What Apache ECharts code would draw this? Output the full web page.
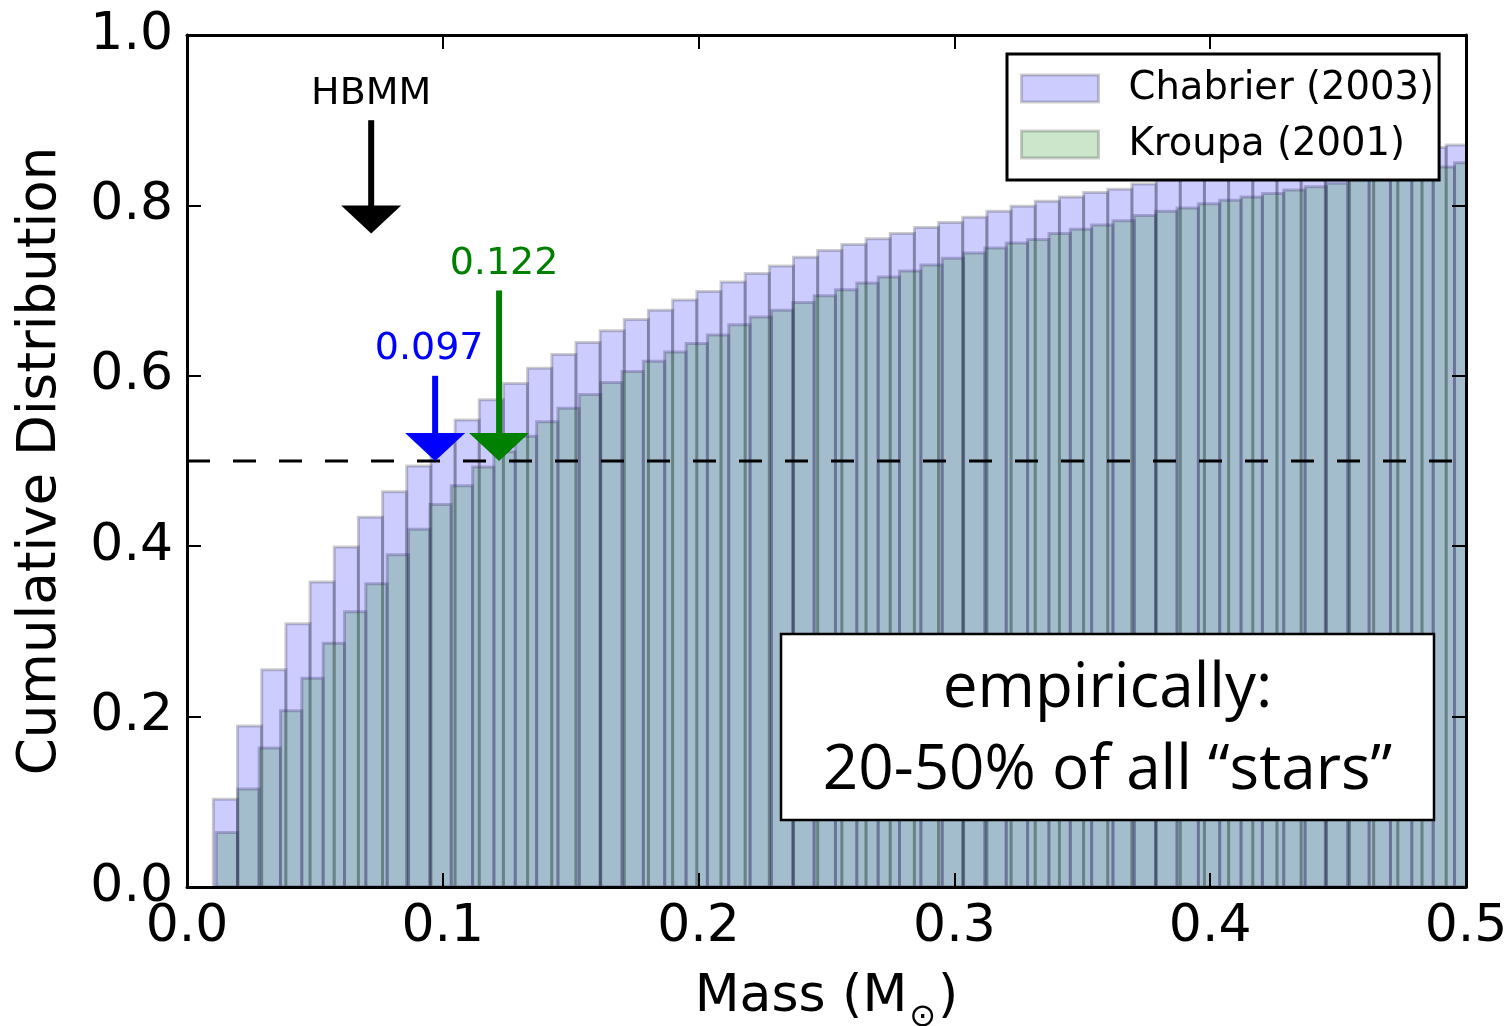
<!DOCTYPE html>
<html>
<head>
<meta charset="utf-8">
<title>Cumulative Distribution of stellar masses</title>
<script src="https://cdn.jsdelivr.net/npm/echarts@6/dist/echarts.min.js"></script>
<style>
  html, body { margin: 0; padding: 0; background: #ffffff; }
  #chart { width: 1512px; height: 1026px; }
</style>
</head>
<body>
<div id="chart"></div>
<script>
// ---- Histogram binning (equal-width bins) ----
const chabrierBinStart = 0.0103;
const chabrierBinWidth = 0.00945;
const kroupaBinStart = 0.0115;
const kroupaBinWidth = 0.008345;

// ---- Cumulative fraction per bin ----
const chabrierCumulative = [
  0.103, 0.189, 0.255, 0.309, 0.358, 0.399, 0.434, 0.464, 0.494, 0.521,
  0.548, 0.572, 0.591, 0.609, 0.625, 0.639, 0.653, 0.666, 0.677, 0.689,
  0.699, 0.710, 0.720, 0.729, 0.739, 0.747, 0.754, 0.761, 0.767, 0.774,
  0.780, 0.786, 0.793, 0.799, 0.805, 0.810, 0.815, 0.819, 0.825, 0.830,
  0.834, 0.838, 0.842, 0.846, 0.849, 0.853, 0.856, 0.859, 0.862, 0.865,
  0.868, 0.871
];
const kroupaCumulative = [
  0.064, 0.115, 0.163, 0.207, 0.245, 0.286, 0.323, 0.356, 0.390, 0.420,
  0.449, 0.471, 0.493, 0.511, 0.529, 0.546, 0.562, 0.578, 0.592, 0.605,
  0.617, 0.628, 0.638, 0.648, 0.660, 0.669, 0.677, 0.686, 0.694, 0.701,
  0.709, 0.716, 0.723, 0.730, 0.738, 0.744, 0.750, 0.756, 0.760, 0.767,
  0.772, 0.777, 0.782, 0.788, 0.793, 0.797, 0.802, 0.806, 0.810, 0.814,
  0.818, 0.822, 0.826, 0.830, 0.834, 0.838, 0.841, 0.845, 0.850
];

// ---- Axis ranges ----
const xRange = [0, 0.5];
const xStep = 0.1;
const yRange = [0, 1];
const yStep = 0.2;

// ---- Reference level and arrow annotations ----
const medianLevel = 0.5;
const arrowLabels = ['HBMM', '0.097', '0.122'];
const arrowX = [0.072, 0.097, 0.122];
const arrowTail = [0.90, 0.60, 0.70];
const arrowTip = [0.767, 0.5, 0.5];

const seriesNames = ['Chabrier (2003)', 'Kroupa (2001)'];
const boxLines = ['empirically:', '20-50% of all \u201cstars\u201d'];

// ---- Styles ----
const chabrierFill = 'rgba(0,0,255,0.2)';
const kroupaFill = 'rgba(0,128,0,0.2)';
const barEdge = 'rgba(0,0,0,0.2)';
const kroupaEdge = 'rgba(40,20,90,0.25)';
const arrowColors = ['#000000', '#0000ff', '#008000'];
const arrowLabelDx = [0, -6, 5];
const FONT = '"DejaVu Sans", "Liberation Sans", sans-serif';
const BOX_FONT = '"Open Sans", "Noto Sans", sans-serif';

function toBins(start, width, heights) {
  return heights.map((h, i) => [start + i * width, start + (i + 1) * width, h]);
}

function histRender(fill, edge) {
  return function (params, api) {
    const topLeft = api.coord([api.value(0), api.value(2)]);
    const bottomRight = api.coord([api.value(1), 0]);
    return {
      type: 'rect',
      shape: {
        x: topLeft[0],
        y: topLeft[1],
        width: bottomRight[0] - topLeft[0],
        height: bottomRight[1] - topLeft[1]
      },
      style: { fill: fill, stroke: edge, lineWidth: 3 }
    };
  };
}

function arrowRender(params, api) {
  const i = api.value(3);
  const tail = api.coord([api.value(0), api.value(1)]);
  const tip = api.coord([api.value(0), api.value(2)]);
  const headLen = 28;
  const headHalf = 30;
  const color = arrowColors[i];
  return {
    type: 'group',
    children: [
      {
        type: 'line',
        shape: { x1: tail[0], y1: tail[1], x2: tip[0], y2: tip[1] - headLen + 2 },
        style: { stroke: color, lineWidth: 6 }
      },
      {
        type: 'polygon',
        shape: {
          points: [
            [tip[0] - headHalf, tip[1] - headLen],
            [tip[0] + headHalf, tip[1] - headLen],
            [tip[0], tip[1]]
          ]
        },
        style: { fill: color }
      },
      {
        type: 'text',
        x: tail[0] + arrowLabelDx[i],
        y: tail[1] - 26.5,
        style: {
          text: arrowLabels[i],
          fill: color,
          fontSize: 38,
          fontFamily: FONT,
          align: 'center',
          verticalAlign: 'middle'
        }
      }
    ]
  };
}

const tickFmt = v => v.toFixed(1);

const chart = echarts.init(document.getElementById('chart'), null, { renderer: 'canvas' });

const frameAxis = {
  axisLine: { show: true, onZero: false, lineStyle: { color: '#000', width: 3 } },
  axisTick: { show: true, inside: true, length: 14, lineStyle: { color: '#000', width: 2 } },
  splitLine: { show: false },
  z: 10
};

chart.setOption({
  animation: false,
  backgroundColor: '#ffffff',
  grid: { left: 187, right: 46, top: 35, bottom: 139, containLabel: false, outerBoundsMode: 'none' },
  xAxis: [
    Object.assign({}, frameAxis, {
      type: 'value', position: 'bottom', min: xRange[0], max: xRange[1], interval: xStep,
      axisLabel: { show: true, formatter: tickFmt, color: '#000', fontSize: 52, fontFamily: FONT, margin: 14 },
      name: '{t|Mass (M}{sun|\u2299}{t|)}',
      nameLocation: 'middle',
      nameGap: 84,
      nameTextStyle: {
        color: '#000', fontFamily: FONT, fontSize: 52,
        rich: {
          t: { fontSize: 52, fontFamily: FONT, color: '#000', verticalAlign: 'top' },
          sun: { fontSize: 32, fontFamily: FONT, color: '#000', verticalAlign: 'top', padding: [31, 2, 0, 2] }
        }
      }
    }),
    Object.assign({}, frameAxis, {
      type: 'value', position: 'top', min: xRange[0], max: xRange[1], interval: xStep,
      axisLabel: { show: false }
    })
  ],
  yAxis: [
    Object.assign({}, frameAxis, {
      type: 'value', position: 'left', min: yRange[0], max: yRange[1], interval: yStep,
      axisLabel: { show: true, formatter: tickFmt, color: '#000', fontSize: 52, fontFamily: FONT, margin: 14 },
      name: 'Cumulative Distribution',
      nameLocation: 'middle',
      nameGap: 119,
      nameTextStyle: { color: '#000', fontFamily: FONT, fontSize: 53 }
    }),
    Object.assign({}, frameAxis, {
      type: 'value', position: 'right', min: yRange[0], max: yRange[1], interval: yStep,
      axisLabel: { show: false }
    })
  ],
  legend: {
    orient: 'vertical',
    left: 1007,
    top: 54,
    padding: [15, 5, 16, 13],
    itemGap: 17,
    itemWidth: 77,
    itemHeight: 27,
    icon: 'rect',
    selectedMode: false,
    backgroundColor: '#ffffff',
    borderColor: '#000000',
    borderWidth: 3,
    borderRadius: 0,
    z: 20,
    textStyle: { color: '#000', fontFamily: FONT, fontSize: 38.5, padding: [0, 0, 0, 25] },
    data: [
      { name: seriesNames[0], itemStyle: { color: chabrierFill, borderColor: barEdge, borderWidth: 3 } },
      { name: seriesNames[1], itemStyle: { color: kroupaFill, borderColor: barEdge, borderWidth: 3 } }
    ]
  },
  graphic: [
    {
      type: 'rect', z: 100,
      shape: { x: 781, y: 634, width: 653, height: 186 },
      style: { fill: '#ffffff', stroke: '#000000', lineWidth: 2.5 }
    },
    {
      type: 'text', z: 101, x: 1107.5, y: 689,
      style: { text: boxLines[0], fill: '#000', fontSize: 62, fontFamily: BOX_FONT, align: 'center', verticalAlign: 'middle' }
    },
    {
      type: 'text', z: 101, x: 1107.5, y: 771,
      style: { text: boxLines[1], fill: '#000', fontSize: 62, fontFamily: BOX_FONT, align: 'center', verticalAlign: 'middle' }
    }
  ],
  series: [
    {
      name: seriesNames[0],
      type: 'custom',
      clip: true,
      silent: true,
      z: 2,
      itemStyle: { color: chabrierFill },
      encode: { x: [0, 1], y: 2 },
      data: toBins(chabrierBinStart, chabrierBinWidth, chabrierCumulative),
      renderItem: histRender(chabrierFill, barEdge)
    },
    {
      // drawn over the Chabrier bars
      name: seriesNames[1],
      type: 'custom',
      clip: true,
      silent: true,
      z: 3,
      itemStyle: { color: kroupaFill },
      encode: { x: [0, 1], y: 2 },
      data: toBins(kroupaBinStart, kroupaBinWidth, kroupaCumulative),
      renderItem: histRender(kroupaFill, kroupaEdge)
    },
    {
      name: 'median',
      type: 'line',
      silent: true,
      z: 5,
      symbol: 'none',
      lineStyle: { color: '#000', width: 3, type: [23, 23] },
      data: [[xRange[0], medianLevel], [xRange[1], medianLevel]]
    },
    {
      name: 'arrows',
      type: 'custom',
      silent: true,
      z: 6,
      encode: { x: 0, y: [1, 2] },
      data: arrowX.map((x, i) => [x, arrowTail[i], arrowTip[i], i]),
      renderItem: arrowRender
    }
  ]
});
</script>
</body>
</html>
